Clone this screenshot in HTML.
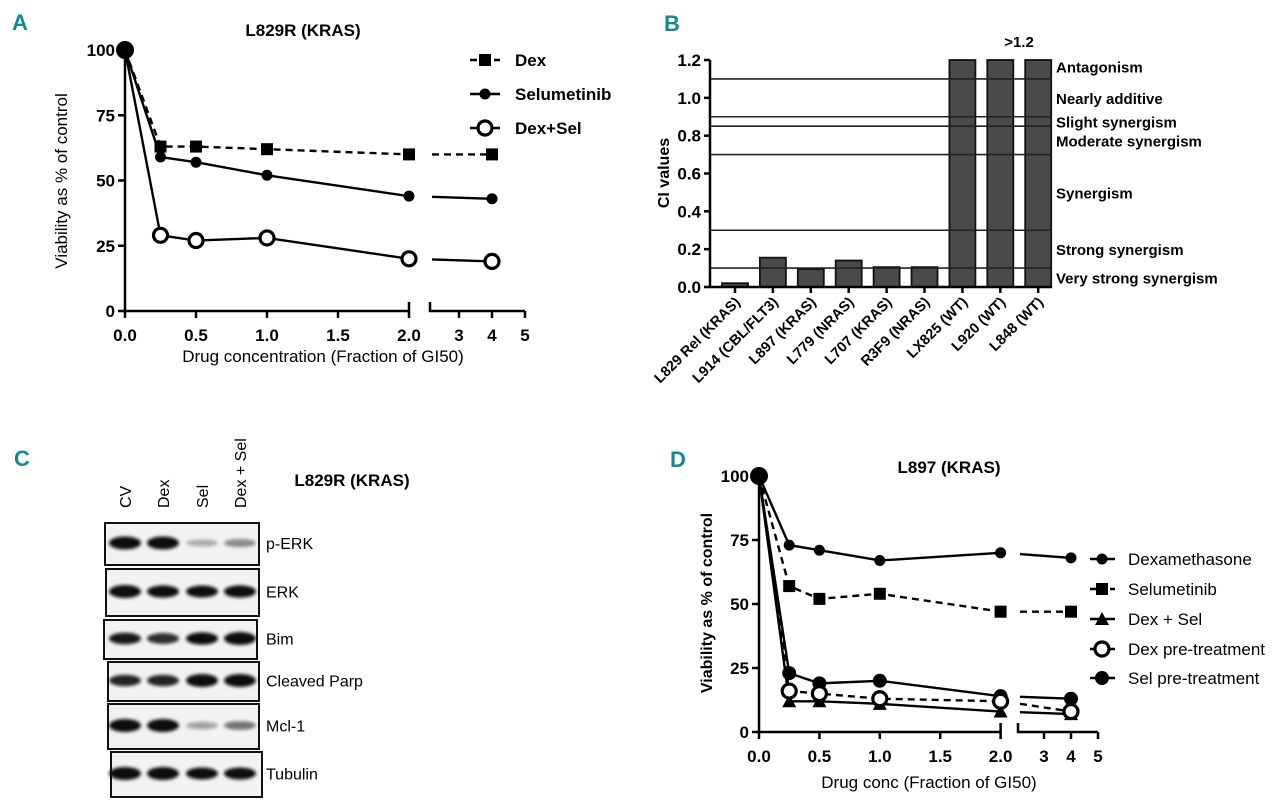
<!DOCTYPE html>
<html><head><meta charset="utf-8">
<style>
html,body{margin:0;padding:0;background:#fff;}
svg{display:block;font-family:"Liberation Sans",Arial,sans-serif;}
.tick{font-weight:bold;font-size:17px;}
.teal{fill:#138b8e;font-weight:bold;font-size:22px;}
</style></head>
<body>
<svg id="fig" width="1280" height="803" viewBox="0 0 1280 803" xmlns="http://www.w3.org/2000/svg">
<defs>
<filter id="blur" x="-30%" y="-100%" width="160%" height="300%"><feGaussianBlur stdDeviation="1.6"/></filter>
</defs>
<g id="panelA"></g>
<g id="panelB"></g>
<g id="panelC"></g>
<g id="panelD"></g>
</svg>
<script>
// ---------- data ----------
const concA = [0, 0.25, 0.5, 1, 2, 4];
const dexA = [100, 63, 63, 62, 60, 60];
const selA = [100, 59, 57, 52, 44, 43];
const comboA = [100, 29, 27, 28, 20, 19];
const yTicksLine = [0, 25, 50, 75, 100];
const xTicksSeg1 = [0, 0.5, 1, 1.5, 2];
const xTickLabelsSeg1 = ["0.0", "0.5", "1.0", "1.5", "2.0"];
const xTicksSeg2 = [3, 4, 5];

const ciCategories = ["L829 Rel  (KRAS)", "L914 (CBL/FLT3)", "L897 (KRAS)", "L779 (NRAS)", "L707 (KRAS)", "R3F9 (NRAS)", "LX825 (WT)", "L920 (WT)", "L848 (WT)"];
const ciValues = [0.02, 0.155, 0.095, 0.14, 0.105, 0.105, 1.2, 1.2, 1.2];
const ciTicks = [0, 0.2, 0.4, 0.6, 0.8, 1.0, 1.2];
const ciThresholds = [1.1, 0.9, 0.85, 0.7, 0.3, 0.1];
const ciZoneLabels = ["Antagonism", "Nearly additive", "Slight synergism", "Moderate synergism", "Synergism", "Strong synergism", "Very strong synergism"];
const ciZoneValues = [1.165, 1.0, 0.875, 0.775, 0.5, 0.2, 0.05];

const concD = [0, 0.25, 0.5, 1, 2, 4];
const dexD = [100, 73, 71, 67, 70, 68];
const selD = [100, 57, 52, 54, 47, 47];
const comboD = [100, 12, 12, 11, 8, 7];
const dexPreD = [100, 16, 15, 13, 12, 8];
const selPreD = [100, 23, 19, 20, 14, 13];

const blotLanes = ["CV", "Dex", "Sel", "Dex + Sel"];
const blotProteins = ["p-ERK", "ERK", "Bim", "Cleaved Parp", "Mcl-1", "Tubulin"];
const bandPERK = [1, 1, 0.15, 0.3];
const bandERK = [1, 0.9, 0.85, 0.9];
const bandBim = [0.8, 0.7, 0.9, 1];
const bandParp = [0.75, 0.75, 1, 1];
const bandMcl = [1, 1, 0.2, 0.4];
const bandTub = [1, 1, 0.85, 0.85];

const NS = "http://www.w3.org/2000/svg";
function mk(parent, tag, attrs, text) {
  const e = document.createElementNS(NS, tag);
  for (const k in attrs) e.setAttribute(k, attrs[k]);
  if (text !== undefined) e.textContent = text;
  parent.appendChild(e);
  return e;
}

// ---------- broken-axis line chart ----------
function brokenChart(g, cfg) {
  const x = v => v <= 2 ? cfg.x0 + v * cfg.ux1 : cfg.s2 + (v - 2.2) * cfg.ux2 + 0; // not used for >2 directly
  const px = v => v <= 2 ? cfg.x0 + v * cfg.ux1 : cfg.xAt3 + (v - 3) * cfg.ux2;
  const py = v => cfg.y0 - v * cfg.uy;
  // axes
  let ax = mk(g, "path", {d: `M${cfg.x0},${py(100)} V${cfg.y0} H${px(2)} V${cfg.y0 - 9} M${cfg.s2},${cfg.y0 - 9} V${cfg.y0} H${px(5)}`, fill: "none", stroke: "#000", "stroke-width": 2.5});
  
  
  yTicksLine.forEach(v => {
    let t = mk(g, "line", {x1: cfg.x0 - 7, x2: cfg.x0, y1: py(v), y2: py(v), stroke: "#000", "stroke-width": 2.5});
    
    
    let l = mk(g, "text", {x: cfg.x0 - 10, y: py(v) + 6, "text-anchor": "end", class: "tick"}, String(v));
    
    
  });
  xTicksSeg1.forEach((v, i) => {
    let t = mk(g, "line", {x1: px(v), x2: px(v), y1: cfg.y0, y2: cfg.y0 + 7, stroke: "#000", "stroke-width": 2.5});
    
    
    let l = mk(g, "text", {x: px(v), y: cfg.y0 + 30, "text-anchor": "middle", class: "tick"}, xTickLabelsSeg1[i]);
    
    
  });
  xTicksSeg2.forEach(v => {
    let t = mk(g, "line", {x1: px(v), x2: px(v), y1: cfg.y0, y2: cfg.y0 + 7, stroke: "#000", "stroke-width": 2.5});
    
    
    let l = mk(g, "text", {x: px(v), y: cfg.y0 + 30, "text-anchor": "middle", class: "tick"}, String(v));
    
    
  });
  return {px, py};
}

function seriesLine(g, sc, xs, ys, cfg, dash, name) {
  const pts1 = [], last = xs.length - 1;
  xs.forEach((v, i) => { if (v <= 2) pts1.push(sc.px(v) + "," + sc.py(ys[i])); });
  let p1 = mk(g, "polyline", {points: pts1.join(" "), fill: "none", stroke: "#000", "stroke-width": 2.4, "stroke-dasharray": dash || "none"});
  
  
  // segment across break
  const i2 = xs.indexOf(2);
  const ax = sc.px(2), ay = sc.py(ys[i2]), bx = sc.px(xs[last]), by = sc.py(ys[last]);
  const t = (cfg.s2 - ax) / (bx - ax);
  let p2 = mk(g, "line", {x1: cfg.s2 + 2, y1: ay + t * (by - ay), x2: bx, y2: by, stroke: "#000", "stroke-width": 2.4, "stroke-dasharray": dash || "none"});
  
  
}

function marker(g, type, x, y, name, big) {
  let e;
  if (type === "square") e = mk(g, "rect", {x: x - 6, y: y - 6, width: 12, height: 12, fill: "#000"});
  else if (type === "dot") e = mk(g, "circle", {cx: x, cy: y, r: big ? 7 : 5.5, fill: "#000"});
  else if (type === "open") e = mk(g, "circle", {cx: x, cy: y, r: 7, fill: "#fff", stroke: "#000", "stroke-width": 3.2});
  else if (type === "openDash") { e = mk(g, "circle", {cx: x, cy: y, r: 7, fill: "#fff", stroke: "#000", "stroke-width": 3}); }
  else if (type === "tri") e = mk(g, "path", {d: `M${x},${y - 7} L${x + 7},${y + 6} L${x - 7},${y + 6} Z`, fill: "#000"});
  
  
  return e;
}

// ---------- Panel A ----------
(function () {
  const g = document.getElementById("panelA");
  const cfg = {x0: 125, ux1: 142, y0: 311, uy: 2.61, s2: 430, xAt3: 459, ux2: 33};
  const sc = brokenChart(g, cfg);
  let e = mk(g, "text", {x: 12, y: 30, class: "teal"}, "A");
   
  e = mk(g, "text", {x: 303, y: 36, "text-anchor": "middle", "font-weight": "bold", "font-size": 17}, "L829R (KRAS)");
   
  e = mk(g, "text", {x: 67, y: 181, "text-anchor": "middle", "font-size": 17, transform: "rotate(-90 67 181)"}, "Viability as % of control");
   
  e = mk(g, "text", {x: 323, y: 362, "text-anchor": "middle", "font-size": 17}, "Drug concentration (Fraction of GI50)");
   

  seriesLine(g, sc, concA, dexA, cfg, "7,5", "dex");
  seriesLine(g, sc, concA, selA, cfg, null, "selumetinib");
  seriesLine(g, sc, concA, comboA, cfg, null, "dex-sel");
  concA.forEach((v, i) => { if (i > 0) marker(g, "square", sc.px(v), sc.py(dexA[i]), "dex-point"); });
  concA.forEach((v, i) => { if (i > 0) marker(g, "dot", sc.px(v), sc.py(selA[i]), "selumetinib-point"); });
  concA.forEach((v, i) => { if (i > 0) marker(g, "open", sc.px(v), sc.py(comboA[i]), "dex-sel-point"); });
  e = mk(g, "circle", {cx: sc.px(0), cy: sc.py(100), r: 9, fill: "#000"});
   

  // legend
  const lg = mk(g, "g", {});
   
  const items = [["Dex", "square", "7,5", 60], ["Selumetinib", "dot", null, 94], ["Dex+Sel", "open", null, 128]];
  items.forEach(it => {
    let l = mk(lg, "line", {x1: 470, x2: 500, y1: it[3], y2: it[3], stroke: "#000", "stroke-width": 2.4, "stroke-dasharray": it[2] || "none"});
     
    marker(lg, it[1], 485, it[3], "legend-marker");
    let t = mk(lg, "text", {x: 515, y: it[3] + 6, "font-weight": "bold", "font-size": 17}, it[0]);
     
  });
})();

// ---------- Panel B ----------
(function () {
  const g = document.getElementById("panelB");
  const x0 = 710, y0 = 287, uy = (287 - 60) / 1.2, c0 = 735, step = 37.9, bw = 26, xEnd = 1052;
  const py = v => y0 - v * uy;
  const cx = i => c0 + i * step;
  let e = mk(g, "text", {x: 664, y: 31, class: "teal"}, "B");
   
  e = mk(g, "text", {x: 669, y: 173, "text-anchor": "middle", "font-weight": "bold", "font-size": 16, transform: "rotate(-90 669 173)"}, "CI values");
   
  ciValues.forEach((v, i) => {
    let r = mk(g, "rect", {x: cx(i) - bw / 2, y: py(v), width: bw, height: y0 - py(v), fill: "#4a4a4a", stroke: "#111", "stroke-width": 1.8});
    
    
  });
  ciThresholds.forEach(v => {
    let l = mk(g, "line", {x1: x0, x2: xEnd, y1: py(v), y2: py(v), stroke: "#222", "stroke-width": 1.6});
     
  });
  e = mk(g, "path", {d: `M${x0},${py(1.2)} V${y0} H${xEnd}`, fill: "none", stroke: "#000", "stroke-width": 2.5});
   
  ciTicks.forEach(v => {
    let t = mk(g, "line", {x1: x0 - 6, x2: x0, y1: py(v), y2: py(v), stroke: "#000", "stroke-width": 2.5});
     
    let l = mk(g, "text", {x: x0 - 9, y: py(v) + 6, "text-anchor": "end", class: "tick"}, v.toFixed(1));
     
  });
  ciCategories.forEach((c, i) => {
    let t = mk(g, "line", {x1: cx(i), x2: cx(i), y1: y0, y2: y0 + 6, stroke: "#000", "stroke-width": 2.5});
     
    const lx = cx(i) + 6, ly = y0 + 16;
    let l = mk(g, "text", {x: lx, y: ly, "text-anchor": "end", "font-weight": "bold", "font-size": 14.5, transform: `rotate(-45 ${lx} ${ly})`}, c);
     
  });
  ciZoneLabels.forEach((z, i) => {
    let t = mk(g, "text", {x: 1056, y: py(ciZoneValues[i]) + 6, "font-weight": "bold", "font-size": 15}, z);
     
  });
  e = mk(g, "text", {x: 1019, y: 47, "text-anchor": "middle", "font-weight": "bold", "font-size": 15}, ">1.2");
   
})();

// ---------- Panel C ----------
(function () {
  const g = document.getElementById("panelC");
  let e = mk(g, "text", {x: 14, y: 466, class: "teal"}, "C");
   
  e = mk(g, "text", {x: 352, y: 486, "text-anchor": "middle", "font-weight": "bold", "font-size": 17}, "L829R (KRAS)");
   
  const laneX = [125, 163, 202, 240];
  blotLanes.forEach((ln, i) => {
    let t = mk(g, "text", {x: laneX[i] + 6, y: 508, "font-size": 16, transform: `rotate(-90 ${laneX[i] + 6} 508)`}, ln);
     
  });
  const boxes = [[105, 523, 154, 42], [106, 569, 153, 47], [104, 620, 153, 39], [108, 662, 151, 39], [108, 704, 151, 45], [111, 752, 151, 45]];
  const bands = [bandPERK, bandERK, bandBim, bandParp, bandMcl, bandTub];
  boxes.forEach((b, r) => {
    const bg = mk(g, "g", {});
    
    
    mk(bg, "rect", {x: b[0], y: b[1], width: b[2], height: b[3], fill: "#f2f2f2", stroke: "#111", "stroke-width": 2});
    const cy = b[1] + b[3] / 2 - 1;
    bands[r].forEach((v, i) => {
      let band = mk(bg, "ellipse", {cx: laneX[i], cy: cy, rx: 16, ry: 3 + 3.5 * v, fill: "#111", opacity: Math.min(1, 0.15 + v), filter: "url(#blur)"});
      
      
    });
    let t = mk(g, "text", {x: 266, y: cy + 6, "font-size": 16}, blotProteins[r]);
     
  });
})();

// ---------- Panel D ----------
(function () {
  const g = document.getElementById("panelD");
  const cfg = {x0: 759, ux1: 120.8, y0: 732, uy: 2.56, s2: 1018, xAt3: 1044, ux2: 27};
  const sc = brokenChart(g, cfg);
  let e = mk(g, "text", {x: 670, y: 467, class: "teal"}, "D");
   
  e = mk(g, "text", {x: 949, y: 473, "text-anchor": "middle", "font-weight": "bold", "font-size": 17}, "L897 (KRAS)");
   
  e = mk(g, "text", {x: 712, y: 603, "text-anchor": "middle", "font-weight": "bold", "font-size": 16, transform: "rotate(-90 712 603)"}, "Viability as % of control");
   
  e = mk(g, "text", {x: 929, y: 788, "text-anchor": "middle", "font-size": 17}, "Drug conc (Fraction of GI50)");
   

  seriesLine(g, sc, concD, dexD, cfg, null, "dexamethasone");
  seriesLine(g, sc, concD, selD, cfg, "7,5", "selumetinib");
  seriesLine(g, sc, concD, comboD, cfg, null, "dex-sel");
  seriesLine(g, sc, concD, dexPreD, cfg, "7,5", "dex-pretreatment");
  seriesLine(g, sc, concD, selPreD, cfg, null, "sel-pretreatment");
  concD.forEach((v, i) => { if (i > 0) marker(g, "dot", sc.px(v), sc.py(dexD[i]), "dexamethasone-point"); });
  concD.forEach((v, i) => { if (i > 0) marker(g, "square", sc.px(v), sc.py(selD[i]), "selumetinib-point"); });
  concD.forEach((v, i) => { if (i > 0) marker(g, "tri", sc.px(v), sc.py(comboD[i]), "dex-sel-point"); });
  concD.forEach((v, i) => { if (i > 0) marker(g, "dot", sc.px(v), sc.py(selPreD[i]), "sel-pretreatment-point", true); });
  concD.forEach((v, i) => { if (i > 0) marker(g, "open", sc.px(v), sc.py(dexPreD[i]), "dex-pretreatment-point"); });
  e = mk(g, "circle", {cx: sc.px(0), cy: sc.py(100), r: 9, fill: "#000"});
   

  const lg = mk(g, "g", {});
   
  const items = [["Dexamethasone", "dot", null, 559], ["Selumetinib", "square", "7,5", 589], ["Dex + Sel", "tri", null, 619], ["Dex pre-treatment", "open", "7,5", 649], ["Sel pre-treatment", "dot", null, 678]];
  items.forEach((it, k) => {
    let l = mk(lg, "line", {x1: 1090, x2: 1115, y1: it[3], y2: it[3], stroke: "#000", "stroke-width": 2.4, "stroke-dasharray": it[2] ? "6,4" : "none"});
     
    marker(lg, it[1], 1102, it[3], "legend-marker", k === 4);
    let t = mk(lg, "text", {x: 1128, y: it[3] + 6, "font-size": 17}, it[0]);
     
  });
})();
</script>
</body></html>
